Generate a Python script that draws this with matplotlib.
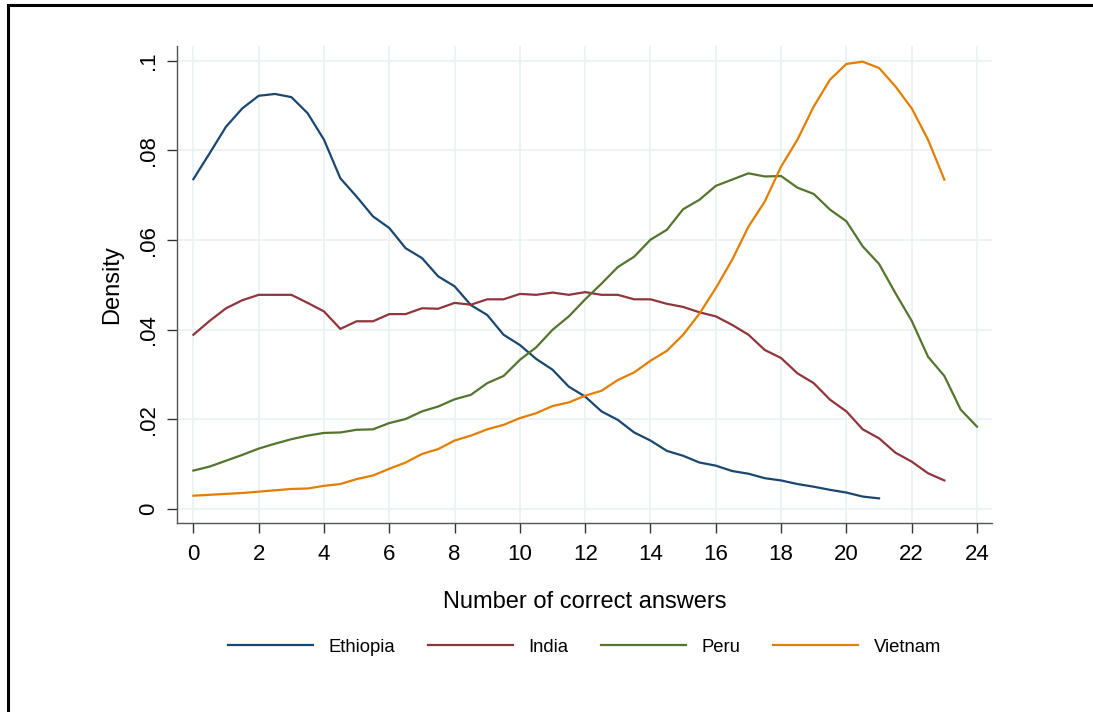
import matplotlib.pyplot as plt
from matplotlib.patches import Rectangle

plt.rcParams['font.family'] = ['Liberation Sans', 'DejaVu Sans']

# density estimates, x step 0.5
ethiopia_x = [i * 0.5 for i in range(43)]          # 0 .. 21
ethiopia_y = [0.0736, 0.0794, 0.0853, 0.0894, 0.0922, 0.0926, 0.0919, 0.0883,
              0.0824, 0.0738, 0.0697, 0.0653, 0.0627, 0.0582, 0.0560, 0.0519,
              0.0497, 0.0455, 0.0433, 0.0389, 0.0366, 0.0335, 0.0311, 0.0273,
              0.0251, 0.0218, 0.0199, 0.0171, 0.0153, 0.0130, 0.0119, 0.0104,
              0.0097, 0.0085, 0.0079, 0.0069, 0.0064, 0.0056, 0.0050, 0.0043,
              0.0037, 0.0028, 0.0024]

india_x = [i * 0.5 for i in range(47)]             # 0 .. 23
india_y = [0.0389, 0.0420, 0.0448, 0.0466, 0.0478, 0.0478, 0.0478, 0.0460,
           0.0441, 0.0402, 0.0419, 0.0419, 0.0435, 0.0435, 0.0448, 0.0447,
           0.0460, 0.0456, 0.0468, 0.0468, 0.0480, 0.0478, 0.0483, 0.0478,
           0.0484, 0.0478, 0.0478, 0.0468, 0.0468, 0.0458, 0.0451, 0.0439,
           0.0430, 0.0411, 0.0389, 0.0355, 0.0337, 0.0303, 0.0281, 0.0244,
           0.0218, 0.0178, 0.0158, 0.0126, 0.0106, 0.0080, 0.0064]

peru_x = [i * 0.5 for i in range(49)]              # 0 .. 24
peru_y = [0.0086, 0.0095, 0.0108, 0.0121, 0.0135, 0.0146, 0.0156, 0.0164,
          0.0170, 0.0171, 0.0177, 0.0178, 0.0192, 0.0201, 0.0218, 0.0229,
          0.0245, 0.0255, 0.0281, 0.0297, 0.0333, 0.0361, 0.0400, 0.0430,
          0.0468, 0.0503, 0.0540, 0.0563, 0.0601, 0.0623, 0.0669, 0.0690,
          0.0721, 0.0735, 0.0749, 0.0742, 0.0743, 0.0717, 0.0703, 0.0668,
          0.0642, 0.0586, 0.0547, 0.0482, 0.0420, 0.0340, 0.0297, 0.0222,
          0.0184]

vietnam_x = [i * 0.5 for i in range(47)]           # 0 .. 23
vietnam_y = [0.0030, 0.0032, 0.0034, 0.0036, 0.0039, 0.0042, 0.0045, 0.0046,
             0.0052, 0.0056, 0.0067, 0.0075, 0.0090, 0.0104, 0.0123, 0.0134,
             0.0153, 0.0164, 0.0178, 0.0188, 0.0203, 0.0214, 0.0230, 0.0238,
             0.0253, 0.0264, 0.0288, 0.0305, 0.0331, 0.0353, 0.0389, 0.0436,
             0.0493, 0.0556, 0.0630, 0.0686, 0.0764, 0.0824, 0.0898, 0.0958,
             0.0993, 0.0998, 0.0984, 0.0943, 0.0894, 0.0824, 0.0735]

series = [('Ethiopia', ethiopia_x, ethiopia_y, '#1a476f'),
          ('India', india_x, india_y, '#90353b'),
          ('Peru', peru_x, peru_y, '#55752f'),
          ('Vietnam', vietnam_x, vietnam_y, '#e37e00')]

x_ticks = list(range(0, 25, 2))
y_ticks = [0, 0.02, 0.04, 0.06, 0.08, 0.1]
y_tick_labels = ['0', '.02', '.04', '.06', '.08', '.1']

fig = plt.figure(figsize=(10.93, 7.12), dpi=100)
ax = fig.add_axes([0.162, 0.2654, 0.7456, 0.67])

for name, xs, ys, color in series:
    ax.plot(xs, ys, color=color, linewidth=1.6, label=name)

ax.set_xlim(-0.5, 24.46)
ax.set_ylim(-0.0031, 0.1033)
ax.set_xticks(x_ticks)
ax.set_yticks(y_ticks)
ax.set_yticklabels(y_tick_labels, rotation=90, va='center')
ax.tick_params(axis='both', labelsize=16, length=7, width=1, color='#333333')
ax.tick_params(axis='x', pad=8)
ax.tick_params(axis='y', pad=6)
ax.grid(True, color='#eaf2f3', linewidth=1.3)
ax.set_axisbelow(True)

for side in ['top', 'right']:
    ax.spines[side].set_visible(False)
for side in ['left', 'bottom']:
    ax.spines[side].set_color('#555555')
    ax.spines[side].set_linewidth(1)

ax.set_xlabel('Number of correct answers', fontsize=17, labelpad=19)
ax.set_ylabel('Density', fontsize=17, labelpad=11)

ax.legend(loc='center', bbox_to_anchor=(0.5, -0.26), ncol=4, frameon=False,
          fontsize=13.3, handlelength=4.6, handletextpad=0.85, columnspacing=1.75)

# outer frame (runs off the right and bottom edge like the reference)
fig.patches.append(Rectangle((8 / 1093, -0.2), 1.2, 1.2 - 5 / 712,
                             transform=fig.transFigure, fill=False,
                             edgecolor='black', linewidth=2.2))

fig.savefig('out.png', dpi=100)
